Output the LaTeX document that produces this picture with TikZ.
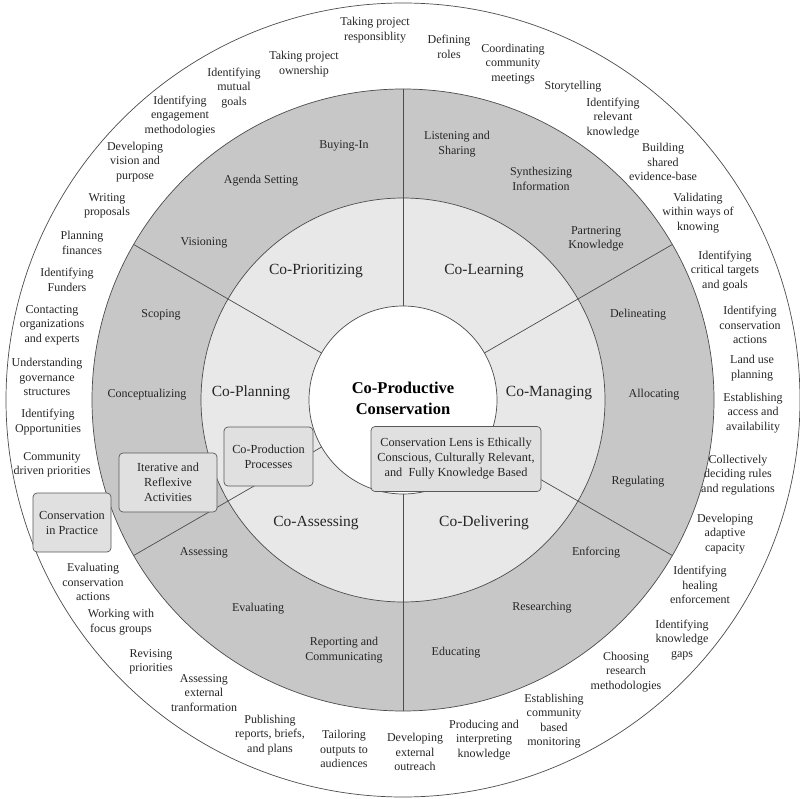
\documentclass[tikz,border=0pt]{standalone}
\usepackage{fontspec}
\setmainfont{Liberation Serif}
\usetikzlibrary{calc}
\begin{document}
\begin{tikzpicture}[x=1pt,y=-1pt,
  lab/.style={font=\fontsize{12}{14.5}\selectfont, align=center, inner sep=0pt, text=black!85},
  sect/.style={font=\fontsize{15.5}{18}\selectfont, align=center, inner sep=0pt, text=black!85},
  pbox/.style={draw=black!65, fill=black!12, rounded corners=4pt, font=\fontsize{12.3}{15}\selectfont, align=center, inner sep=0pt, line width=0.7pt, text=black!85},
  ring/.style={draw=black!70, line width=0.7pt}]
\useasboundingbox (0,0) rectangle (800,799);
\coordinate (c) at (403,400);
\draw[ring, fill=white] (c) circle (397);
\draw[ring, fill=black!22] (c) circle (311);
\draw[ring, fill=black!9] (c) circle (202);
\foreach \a in {90,30,150,210,270,330}
  \draw[ring] ($(c)+(\a:94)$) -- ($(c)+(\a:311)$);
\draw[ring, fill=white] (c) circle (94);
% center
\node[font=\fontsize{16.5}{21}\selectfont\bfseries, align=center, inner sep=0pt] (title) at (403,398) {Co-Productive\\Conservation};
% boxes
\node[pbox, minimum width=170, minimum height=65] (lens) at (456,459) {Conservation Lens is Ethically\\Conscious, Culturally Relevant,\\and\ \ Fully Knowledge Based};
\node[pbox, minimum width=89, minimum height=59] (cpp) at (268.5,456.5) {Co-Production\\Processes};
\node[pbox, minimum width=98, minimum height=59] (ira) at (168,482.5) {Iterative and\\Reflexive\\Activities};
\node[pbox, minimum width=78, minimum height=59] (cip) at (72,522.5) {Conservation\\in Practice};
% sections
\node[sect] (s1) at (316,271) {Co-Prioritizing};
\node[sect] (s2) at (484,271) {Co-Learning};
\node[sect] (s3) at (549,393) {Co-Managing};
\node[sect] (s4) at (484,523) {Co-Delivering};
\node[sect] (s5) at (316,523) {Co-Assessing};
\node[sect] (s6) at (251,393) {Co-Planning};
% middle ring
\node[lab] (m1) at (204,243) {Visioning};
\node[lab] (m2) at (261,181) {Agenda Setting};
\node[lab] (m3) at (344,146) {Buying-In};
\node[lab] (m4) at (457,144) {Listening and\\Sharing};
\node[lab] (m5) at (541,179) {Synthesizing\\Information};
\node[lab] (m6) at (596,239) {Partnering\\Knowledge};
\node[lab] (m7) at (638,315) {Delineating};
\node[lab] (m8) at (654,395) {Allocating};
\node[lab] (m9) at (638,482) {Regulating};
\node[lab] (m10) at (596,553) {Enforcing};
\node[lab] (m11) at (542,608) {Researching};
\node[lab] (m12) at (456,653) {Educating};
\node[lab] (m13) at (344,650) {Reporting and\\Communicating};
\node[lab] (m14) at (258,609) {Evaluating};
\node[lab] (m15) at (204,553) {Assessing};
\node[lab] (m16) at (147,395) {Conceptualizing};
\node[lab] (m17) at (161,315) {Scoping};
% outer ring
\node[lab] (o1) at (375,30) {Taking project\\responsiblity};
\node[lab] (o2) at (449,47) {Defining\\roles};
\node[lab] (o3) at (513,64) {Coordinating\\community\\meetings};
\node[lab] (o4) at (573,87) {Storytelling};
\node[lab] (o5) at (613,118) {Identifying\\relevant\\knowledge};
\node[lab] (o6) at (663,162) {Building\\shared\\evidence-base};
\node[lab] (o7) at (698,213) {Validating\\within ways of\\knowing};
\node[lab] (o8) at (725,271) {Identifying\\critical targets\\and goals};
\node[lab] (o9) at (750,325) {Identifying\\conservation\\actions};
\node[lab] (o10) at (752,368) {Land use\\planning};
\node[lab] (o11) at (753,413) {Establishing\\access and\\availability};
\node[lab] (o12) at (738,475) {Collectively\\deciding rules\\and regulations};
\node[lab] (o13) at (725,534) {Developing\\adaptive\\capacity};
\node[lab] (o14) at (700,585) {Identifying\\healing\\enforcement};
\node[lab] (o15) at (682,640) {Identifying\\knowledge\\gaps};
\node[lab] (o16) at (626,672) {Choosing\\research\\methodologies};
\node[lab] (o17) at (554,721) {Establishing\\community\\based\\monitoring};
\node[lab] (o18) at (484,740) {Producing and\\interpreting\\knowledge};
\node[lab] (o19) at (415,752) {Developing\\external\\outreach};
\node[lab] (o20) at (344,749) {Tailoring\\outputs to\\audiences};
\node[lab] (o21) at (270,735) {Publishing\\reports, briefs,\\and plans};
\node[lab] (o22) at (204,693) {Assessing\\external\\tranformation};
\node[lab] (o23) at (151,662) {Revising\\priorities};
\node[lab] (o24) at (121,622) {Working with\\focus groups};
\node[lab] (o25) at (93,582) {Evaluating\\conservation\\actions};
\node[lab] (o26) at (52,465) {Community\\driven priorities};
\node[lab] (o27) at (48,422) {Identifying\\Opportunities};
\node[lab] (o28) at (47,377) {Understanding\\governance\\structures};
\node[lab] (o29) at (52,325) {Contacting\\organizations\\and experts};
\node[lab] (o30) at (67,280) {Identifying\\Funders};
\node[lab] (o31) at (82,243) {Planning\\finances};
\node[lab] (o32) at (107,206) {Writing\\proposals};
\node[lab] (o33) at (135,162) {Developing\\vision and\\purpose};
\node[lab] (o34) at (180,116) {Identifying\\engagement\\methodologies};
\node[lab] (o35) at (234,88) {Identifying\\mutual\\goals};
\node[lab] (o36) at (304,64) {Taking project\\ownership};
\end{tikzpicture}
\end{document}
